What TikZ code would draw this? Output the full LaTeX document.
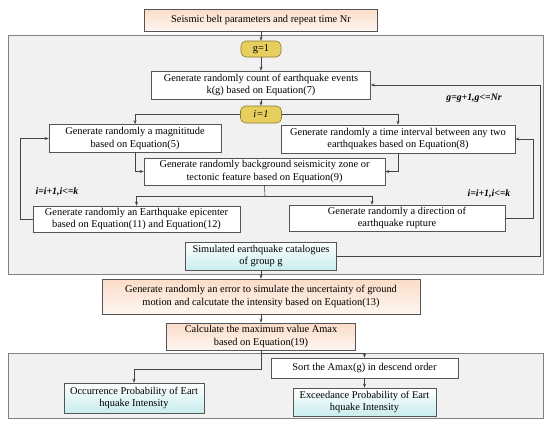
\documentclass[tikz,border=0pt]{standalone}
\usepackage{fontspec}
\setmainfont{Liberation Serif}
\usepackage{tikz}
\usetikzlibrary{arrows.meta}

\definecolor{peach}{HTML}{FBDCC8}
\definecolor{aqua}{HTML}{C9EDEE}
\definecolor{gold}{HTML}{E6CF5E}
\definecolor{goldline}{HTML}{8C7A30}
\definecolor{panel}{HTML}{F1F1F1}
\definecolor{edge}{HTML}{555555}

\tikzset{
  >={Stealth[length=4pt,width=3pt]},
  every node/.style={font=\fontsize{10.4}{12.4}\selectfont, align=center, inner sep=1pt},
  box/.style={draw=edge, fill=white, line width=0.6pt},
  peachbox/.style={box, top color=peach, bottom color=peach!25!white},
  aquabox/.style={box, top color=white, bottom color=aqua},
  startbox/.style={draw=goldline, fill=gold, rounded corners=5pt, line width=0.6pt},
  frame/.style={draw=gray, fill=panel, line width=0.9pt},
  link/.style={->, draw=edge!80!black, line width=0.6pt},
  note/.style={font=\fontsize{9.8}{11}\selectfont\bfseries\itshape}
}

\begin{document}
\begin{tikzpicture}[x=1pt,y=-1pt]
    \useasboundingbox (0,0) rectangle (550,424);
    % panels
    \draw[frame] (8,35) rectangle (543,274);
    \draw[frame] (8,353) rectangle (543,418);

    \node[peachbox, minimum width=233, minimum height=22] (belt) at (261,20) {Seismic belt parameters and repeat time Nr};
    \node[startbox, minimum width=40, minimum height=16] (g1) at (261,49) {g=1};
    \node[box, minimum width=219, minimum height=28] (count) at (261,85) {Generate randomly count of earthquake events\\k(g) based on Equation(7)};
    \node[startbox, minimum width=41, minimum height=17] (i1) at (261,114.5) {\textit{i=1}};
    \node[box, minimum width=172, minimum height=28] (mag) at (135,138.5) {Generate randomly a magnititude\\based on Equation(5)};
    \node[box, minimum width=234, minimum height=28] (time) at (398,139) {Generate randomly a time interval between any two\\earthquakes based on Equation(8)};
    \node[box, minimum width=241, minimum height=27] (zone) at (264.5,171.5) {Generate randomly background seismicity zone or\\tectonic feature based on Equation(9)};
    \node[box, minimum width=207, minimum height=26] (epi) at (136.5,219) {Generate randomly an Earthquake epicenter\\based on Equation(11) and Equation(12)};
    \node[box, minimum width=216, minimum height=26] (dir) at (397,218) {Generate randomly a direction of\\earthquake rupture};
    \node[aquabox, minimum width=151, minimum height=28] (cat) at (261,256) {Simulated earthquake catalogues\\of group g};
    \node[peachbox, minimum width=318, minimum height=35] (err) at (261,296.5) {Generate randomly an error to simulate the uncertainty of ground\\motion and calcutate the intensity based on Equation(13)};
    \node[peachbox, minimum width=189, minimum height=27] (amax) at (261,336.5) {Calculate the maximum value Amax\\based on Equation(19)};
    \node[box, minimum width=187, minimum height=20] (sort) at (364.5,368) {Sort the Amax(g) in descend order};
    \node[aquabox, minimum width=140, minimum height=30] (occ) at (134,398) {Occurrence Probability of Eart\\hquake Intensity};
    \node[aquabox, minimum width=143, minimum height=28] (exc) at (364.5,402) {Exceedance Probability of Eart\\hquake Intensity};

    \node[note] (gloop) at (474,98) {g=g+1,g<=Nr};
    \node[note] (iloopl) at (57,192) {i=i+1,i<=k};
    \node[note] (iloopr) at (489,194) {i=i+1,i<=k};

    \draw[link] (belt) -- (g1);
    \draw[link] (g1) -- (count);
    \draw[link] (count) -- (i1);
    \draw[link] (i1.west) -| (mag.north);
    \draw[link] (i1.east) -| (time.north);
    \draw[link] (mag.south) |- (zone.west);
    \draw[link] (time.south) |- (zone.east);
    \coordinate (split) at (265,196);
    \draw[draw=edge!80!black, line width=0.6pt] (zone.south) -- (split);
    \draw[link] (split) -| (epi.north);
    \draw[link] (split) -| ([xshift=-25pt]dir.north);
    \draw[link] (epi.west) -- ++(-12,0) |- (mag.west);
    \draw[link] (dir.east) -- ++(28,0) |- (time.east);
    \draw[link] (cat.east) -- ++(203,0) |- (count.east);
    \draw[link] (cat) -- (err);
    \draw[link] (err) -- (amax);
    \draw[link] (amax.south) -- ++(0,19) -| (occ.north);
    \draw[link] (amax.south) -- ++(0,3) -| (sort.north);
    \draw[link] (sort) -- (exc);
\end{tikzpicture}
\end{document}
